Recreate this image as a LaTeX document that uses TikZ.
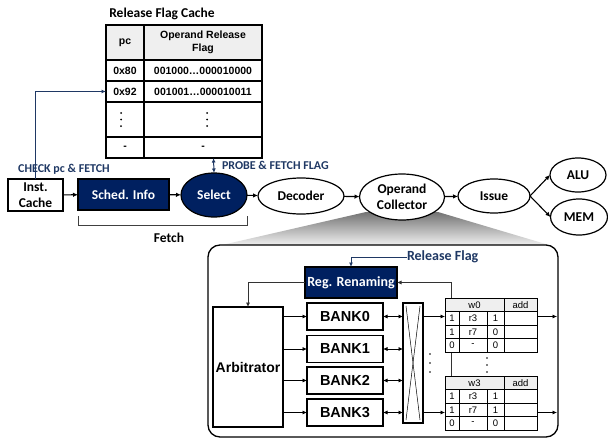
\documentclass[tikz,border=0pt]{standalone}
\usepackage{fontspec}
\setmainfont{Liberation Sans}
\newfontfamily\calib{Carlito}
\usetikzlibrary{arrows.meta,shapes.geometric,backgrounds}
\definecolor{navy}{HTML}{002060}
\definecolor{lblue}{HTML}{1F3864}
\definecolor{hdr}{HTML}{EFEFEF}
\begin{document}
\begin{tikzpicture}[x=1pt,y=-1pt,
  every node/.style={inner sep=0pt, outer sep=0pt},
  cb/.style={font=\calib\bfseries\fontsize{13.5}{16}\selectfont},
  ab/.style={font=\bfseries\fontsize{14.5}{16}\selectfont},
  tb/.style={font=\bfseries\fontsize{10.5}{13}\selectfont},
  tr/.style={font=\fontsize{9.5}{11}\selectfont},
  bl/.style={font=\calib\bfseries\fontsize{12}{14}\selectfont, text=lblue},
  arr/.style={-{Latex[length=5pt,width=4.5pt]}, line width=1.1pt},
  tarr/.style={-{Latex[length=4.5pt,width=4pt]}, line width=0.7pt},
  darr/.style={{Latex[length=4.5pt,width=4pt]}-{Latex[length=4.5pt,width=4pt]}, line width=0.7pt},
  stage/.style={ellipse, draw, line width=1.2pt, fill=white, cb, align=center},
  boxn/.style={rectangle, draw, line width=1.3pt, fill=white},
  dotc/.style={circle, fill=black, minimum size=1.8pt},
]
\useasboundingbox (0,0) rectangle (608,439);

% ---------- Release flag cache ----------
\node[cb, font=\calib\bfseries\fontsize{13.5}{16}\selectfont] (title) at (162,14) {Release Flag Cache};
\fill[hdr] (106,25) rectangle (262,60);
\draw[line width=1.2pt] (106,25) rectangle (262,158);
\foreach \yy in {60,81,102,137} \draw[line width=1.2pt] (106,\yy) -- (262,\yy);
\draw[line width=1.2pt] (144,25) -- (144,158);
\node[tb] (hpc) at (125,42.5) {pc};
\node[tb, align=center] (hflag) at (203,42.5) {Operand Release\\Flag};
\node[tb] (pc1) at (125,70.5) {0x80};
\node[tb] (fl1) at (203,70.5) {001000…000010000};
\node[tb] (pc2) at (125,91.5) {0x92};
\node[tb] (fl2) at (203,91.5) {001001…000010011};
\foreach \xx in {121,207} \foreach \yy in {113,119.5,126} \node[dotc, minimum size=2pt] at (\xx,\yy) {};
\node[tb] (pc4) at (125,147.5) {-};
\node[tb] (fl4) at (203,147.5) {-};
\coordinate (r92) at (106,91.5);
\coordinate (rfcb) at (213.5,158);

% ---------- pipeline ----------
\node[boxn, minimum width=55pt, minimum height=32pt, cb, align=center] (inst) at (35.5,195) {Inst.\\Cache};
\node[boxn, fill=navy, minimum width=91pt, minimum height=31pt, cb, text=white] (sched) at (123.5,194.5) {Sched. Info};
\node[stage, fill=navy, text=white, minimum width=66pt, minimum height=44pt] (select) at (214,195) {Select};
\node[stage, minimum width=86pt, minimum height=36pt] (dec) at (301,196) {Decoder};
\node[stage, minimum width=85pt, minimum height=46pt] (oc) at (402,197) {Operand\\Collector};
\node[stage, minimum width=72pt, minimum height=34pt] (issue) at (494,196) {Issue};
\node[stage, minimum width=56pt, minimum height=34pt] (alu) at (578,175) {ALU};
\node[stage, minimum width=57pt, minimum height=36pt] (mem) at (579,217) {MEM};

\draw[arr] (inst) -- (sched);
\draw[arr] (sched) -- (select);
\draw[arr] (select) -- (dec);
\draw[arr] (dec) -- (oc);
\draw[arr] (oc) -- (issue);
\draw[arr] (issue.east) -- (alu.west);
\draw[arr] (issue.east) -- (mem.west);

% labels
\node[bl] (check) at (64,169) {CHECK pc \& FETCH};
\draw[tarr, lblue, line width=1pt] (inst.north) -- (inst.north |- r92) -- (r92);
\draw[darr, lblue, line width=1pt] (rfcb) -- (select.north);
\node[bl, anchor=west] (probe) at (222,165) {PROBE \& FETCH FLAG};
\draw[line width=0.8pt, black!75] (78,216) -- (78,225) -- (247,225) -- (247,216);
\node[cb] (fetch) at (169,238) {Fetch};

% ---------- zoomed operand collector ----------
\begin{scope}[on background layer]
\shade[top color=black!55, bottom color=black!6] (366,212) -- (438,212) -- (549,245) -- (222,245) -- cycle;
\end{scope}
\draw[line width=1.3pt, fill=white, rounded corners=12pt] (208,245) rectangle (558,437);

\node[boxn, fill=navy, minimum width=92pt, minimum height=31pt, cb, font=\calib\bfseries\fontsize{14}{16}\selectfont, text=white] (ren) at (351,282.5) {Reg. Renaming};
\node[bl, font=\calib\bfseries\fontsize{14}{16}\selectfont, anchor=west] (rflag) at (407,257) {Release Flag};
\draw[tarr, lblue, line width=0.9pt] (rflag.west) -- (ren.north |- rflag.west) -- (ren.north);

\node[boxn, minimum width=70pt, minimum height=120pt, font=\bfseries\fontsize{14}{16}\selectfont] (arb) at (248,367) {Arbitrator};
\draw[tarr, black!80] (ren.west) -- (ren.west -| arb.north) -- (arb.north);

\foreach \i/\yy in {0/316.5,1/349,2/380.5,3/412.5} {
  \node[boxn, minimum width=76pt, minimum height=27pt, ab] (bank\i) at (345,\yy) {BANK\i};
  \draw[tarr] (arb.east |- bank\i) -- (bank\i.west);
}
\node[boxn, minimum width=20pt, minimum height=120pt] (xbar) at (413,363) {};
\draw[line width=0.5pt] (406,306) -- (420,420);
\draw[line width=0.5pt] (420,306) -- (406,420);
\foreach \i in {0,1,2,3} \draw[darr] (bank\i.east) -- (xbar.west |- bank\i);

\foreach \yy in {354,363,372} \node[dotc, minimum size=1.8pt] at (430,\yy) {};
\foreach \yy in {358,365,372} \node[dotc, minimum size=1.8pt] at (487,\yy) {};

% feedback line from collector tables to renaming
\draw[tarr, black!80] (451,376) -- (451,282.5) -- (ren.east);

% collector tables
\foreach \T/\lab/\v in {298/w0/0, 376/w3/1} {
  \node[draw, line width=0.9pt, fill=white, minimum width=92pt, minimum height=54pt] (t\lab) at (491,\T+27) {};
  \fill[hdr] (445,\T) rectangle (537,\T+13.5);
  \draw[line width=0.9pt] (445,\T) rectangle (537,\T+54);
  \foreach \k in {1,2,3} \draw[line width=0.9pt] (445,\T+13.5*\k) -- (537,\T+13.5*\k);
  \draw[line width=0.9pt] (504,\T) -- (504,\T+54);
  \draw[line width=0.9pt] (459,\T+13.5) -- (459,\T+54);
  \draw[line width=0.9pt] (487,\T+13.5) -- (487,\T+54);
  \node[tr] at (474.5,\T+6.75) {\lab};
  \node[tr] at (520.5,\T+6.75) {add};
  \node[tr] at (452,\T+20.25) {1};
  \node[tr] at (473,\T+20.25) {r3};
  \node[tr] at (495.5,\T+20.25) {1};
  \node[tr] at (452,\T+33.75) {1};
  \node[tr] at (473,\T+33.75) {r7};
  \node[tr] at (495.5,\T+33.75) {\v};
  \node[tr] at (452,\T+47.25) {0};
  \node[tr] at (473,\T+47.25) {-};
  \node[tr] at (495.5,\T+47.25) {0};
}
\coordinate (out0) at (557,316.5);
\coordinate (out3) at (557,412.5);
\draw[tarr] (xbar.east |- bank0) -- (tw0.west |- bank0);
\draw[tarr] (xbar.east |- bank3) -- (tw3.west |- bank3);
\draw[tarr] (tw0.east |- out0) -- (out0);
\draw[tarr] (tw3.east |- out3) -- (out3);
\end{tikzpicture}
\end{document}
